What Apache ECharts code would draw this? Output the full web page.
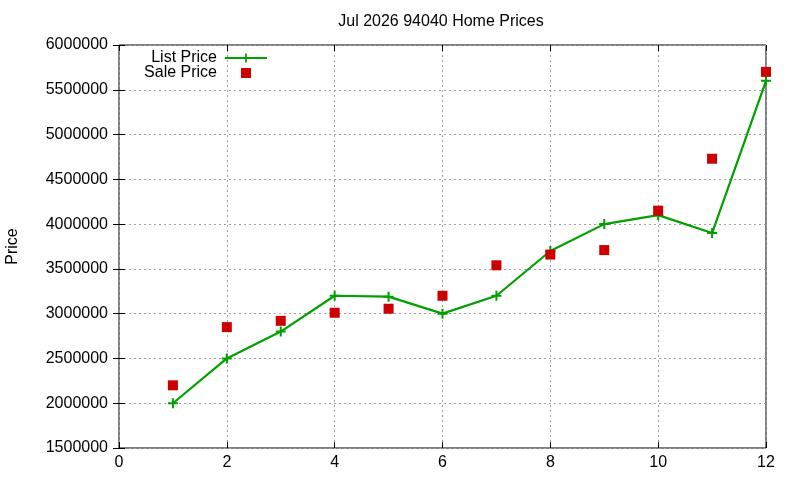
<!DOCTYPE html>
<html>
<head>
<meta charset="utf-8">
<script src="https://cdn.jsdelivr.net/npm/echarts@6/dist/echarts.min.js"></script>
<style>
  html, body { margin: 0; padding: 0; background: #fff; }
  #chart { width: 800px; height: 480px; }
</style>
</head>
<body>
<div id="chart"></div>
<script>
// month index (1..12) vs prices
const months = [1, 2, 3, 4, 5, 6, 7, 8, 9, 10, 11, 12];
const listPrice = [2000000, 2500000, 2800000, 3200000, 3190000, 3000000, 3200000, 3700000, 4000000, 4100000, 3900000, 5600000];
const salePrice = [2200000, 2850000, 2920000, 3010000, 3055000, 3200000, 3540000, 3660000, 3710000, 4150000, 4730000, 5700000];

const FONT = "Liberation Sans";
const FS = 16;
const plus = "path://M4,0H6V4H10V6H6V10H4V6H0V4H4Z";

const chart = echarts.init(document.getElementById("chart"));

const gridLine = { show: true, lineStyle: { color: "#a0a0a0", type: [2, 3], width: 1 } };
const tick = { inside: true, length: 6, lineStyle: { color: "#000" } };

chart.setOption({
  animation: false,
  title: {
    text: "Jul 2026 94040 Home Prices",
    left: 441,
    textAlign: "center",
    top: 14,
    padding: 0,
    textStyle: { fontFamily: FONT, fontSize: FS, fontWeight: "normal", color: "#000" },
  },
  legend: [
    {
      data: ["List Price"], orient: "vertical", align: "right", padding: 0,
      right: 532, top: 50, itemWidth: 42, itemHeight: 11,
      textStyle: { fontFamily: FONT, fontSize: FS, color: "#000", padding: [0, 3, 0, 0] },
    },
    {
      data: ["Sale Price"], orient: "vertical", align: "right", padding: 0,
      right: 549, top: 65, itemWidth: 10, itemHeight: 10,
      textStyle: { fontFamily: FONT, fontSize: FS, color: "#000", padding: [0, 19, 0, 0] },
    },
  ],
  grid: { left: 119, right: 34, top: 45, bottom: 32, show: true, borderColor: "#000", borderWidth: 1, outerBoundsMode: "none", containLabel: false },
  xAxis: [
    {
      type: "value", min: 0, max: 12, interval: 2,
      axisLine: { show: false },
      axisTick: tick,
      axisLabel: { fontFamily: FONT, fontSize: FS, color: "#000", margin: 7 },
      splitLine: gridLine,
    },
    {
      type: "value", position: "top", min: 0, max: 12, interval: 2,
      axisLine: { show: false }, axisTick: tick,
      axisLabel: { show: false }, splitLine: { show: false },
    },
  ],
  yAxis: [
    {
      type: "value", min: 1500000, max: 6000000, interval: 500000,
      name: "Price", nameLocation: "middle", nameGap: 98,
      nameTextStyle: { fontFamily: FONT, fontSize: FS, color: "#000" },
      axisLine: { show: false },
      axisTick: tick,
      axisLabel: { fontFamily: FONT, fontSize: FS, color: "#000", margin: 11, formatter: (v) => String(v) },
      splitLine: gridLine,
    },
    {
      type: "value", position: "right", min: 1500000, max: 6000000, interval: 500000,
      axisLine: { show: false }, axisTick: tick,
      axisLabel: { show: false }, splitLine: { show: false },
    },
  ],
  series: [
    {
      name: "List Price",
      type: "line",
      data: months.map((m, i) => [m, listPrice[i]]),
      symbol: plus,
      symbolSize: 10,
      showAllSymbol: true,
      lineStyle: { color: "#00a000", width: 2.2 },
      itemStyle: { color: "#00a000" },
      z: 3,
    },
    {
      name: "Sale Price",
      type: "scatter",
      data: months.map((m, i) => [m, salePrice[i]]),
      symbol: "rect",
      symbolSize: 10,
      itemStyle: { color: "#cc0000", opacity: 1 },
      z: 4,
    },
  ],
});
</script>
</body>
</html>
